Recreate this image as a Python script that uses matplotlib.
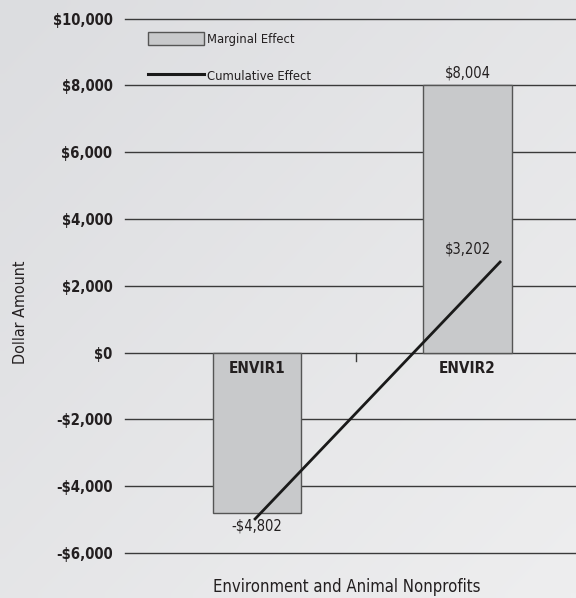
import matplotlib
matplotlib.use("Agg")
import matplotlib.pyplot as plt
from matplotlib.patches import Patch
from matplotlib.lines import Line2D
from matplotlib.ticker import FuncFormatter
import numpy as np

categories = ["ENVIR1", "ENVIR2"]
marginal = [-4802, 8004]
cumulative = [-4802, 3202]
y_ticks = [-6000, -4000, -2000, 0, 2000, 4000, 6000, 8000, 10000]

plt.rcParams["font.family"] = ["DejaVu Sans"]
plt.rcParams["font.stretch"] = "condensed"

BG = "#e4e5e7"
BAR = "#c8c9cb"
EDGE = "#555555"
GRID = "#3a3a3a"
TXT = "#231f20"

fig = plt.figure(figsize=(5.76, 5.98), dpi=100, facecolor=BG)
W, H = 576, 598

# soft diagonal background shading
bg_ax = fig.add_axes([0, 0, 1, 1], zorder=-10)
gy, gx = np.mgrid[0:1:64j, 0:1:64j]
t = (gx + gy) / 2.0
c0 = np.array([0xdc, 0xdd, 0xe0]) / 255.0
c1 = np.array([0xee, 0xee, 0xef]) / 255.0
grad = c0[None, None, :] * (1 - t[..., None]) + c1[None, None, :] * t[..., None]
bg_ax.imshow(grad, extent=[0, 1, 0, 1], origin="upper", aspect="auto",
             interpolation="bilinear")
bg_ax.set_axis_off()

left, right, top, bottom = 125, 576, 18.5, 553
ax = fig.add_axes([left / W, 1 - bottom / H, (right - left) / W, (bottom - top) / H])
ax.patch.set_alpha(0)

# primary axes: bars
x = np.arange(len(categories))
ax.set_xlim(-0.627, 1.515)
ax.set_ylim(-6000, 10000)
ax.bar(x, marginal, width=0.42, color=BAR, edgecolor=EDGE, linewidth=1.0, zorder=3)
for yt in y_ticks:
    ax.axhline(yt, color=GRID, linewidth=1.0, zorder=2, clip_on=False)
for s in ax.spines.values():
    s.set_visible(False)
ax.set_yticks(y_ticks)
ax.yaxis.set_major_formatter(FuncFormatter(
    lambda v, p: ("-$" if v < 0 else "$") + f"{abs(int(v)):,}"))
ax.tick_params(axis="y", length=0, pad=9, labelsize=10.6, labelcolor=TXT)
for lab in ax.get_yticklabels():
    lab.set_fontweight("bold")
ax.set_xticks([])
# category divider tick below the zero line
ax.plot([0.47, 0.47], [0, -240], color=GRID, linewidth=1.0, zorder=3)

# category names
for xi, name in zip(x, categories):
    ax.text(xi, -480, name, ha="center", va="center", fontsize=11,
            fontweight="bold", color=TXT, zorder=5)

# bar value labels
ax.text(x[1], marginal[1] + 360, f"${marginal[1]:,}", ha="center", va="center",
        fontsize=10.5, color=TXT, zorder=5)
ax.text(x[0], marginal[0] - 390, f"-${abs(marginal[0]):,}", ha="center", va="center",
        fontsize=10.5, color=TXT, zorder=5)

# secondary axes: cumulative line
ax2 = fig.add_axes(ax.get_position(), frameon=False)
ax2.set_xlim(-0.531, 1.31)
ax2.set_ylim(-5863, 10788)
ax2.plot(x, cumulative, color="#1a1a1a", linewidth=2.0, zorder=6)
ax2.set_xticks([])
ax2.set_yticks([])
ax2.text(x[1] - 0.13, cumulative[1] + 420, f"${cumulative[1]:,}", ha="center",
         va="center", fontsize=10.5, color=TXT)

# legend
handles = [Patch(facecolor=BAR, edgecolor=EDGE, linewidth=1.0),
           Line2D([], [], color="#1a1a1a", linewidth=2.2)]
leg = ax.legend(handles, ["Marginal Effect", "Cumulative Effect"], loc="upper left",
                bbox_to_anchor=(0.04, 0.985), frameon=False, fontsize=9.3,
                handlelength=4.3, handleheight=1.2, handletextpad=0.25,
                labelspacing=1.8, borderaxespad=0)
for t in leg.get_texts():
    t.set_color(TXT)

fig.text(21 / W, 1 - 312 / H, "Dollar Amount", rotation=90, ha="center", va="center",
         fontsize=11.5, color=TXT)
fig.text(347 / W, 1 - 587 / H, "Environment and Animal Nonprofits", ha="center",
         va="center", fontsize=12, color=TXT)

fig.savefig("out.png", dpi=100, facecolor=BG)
